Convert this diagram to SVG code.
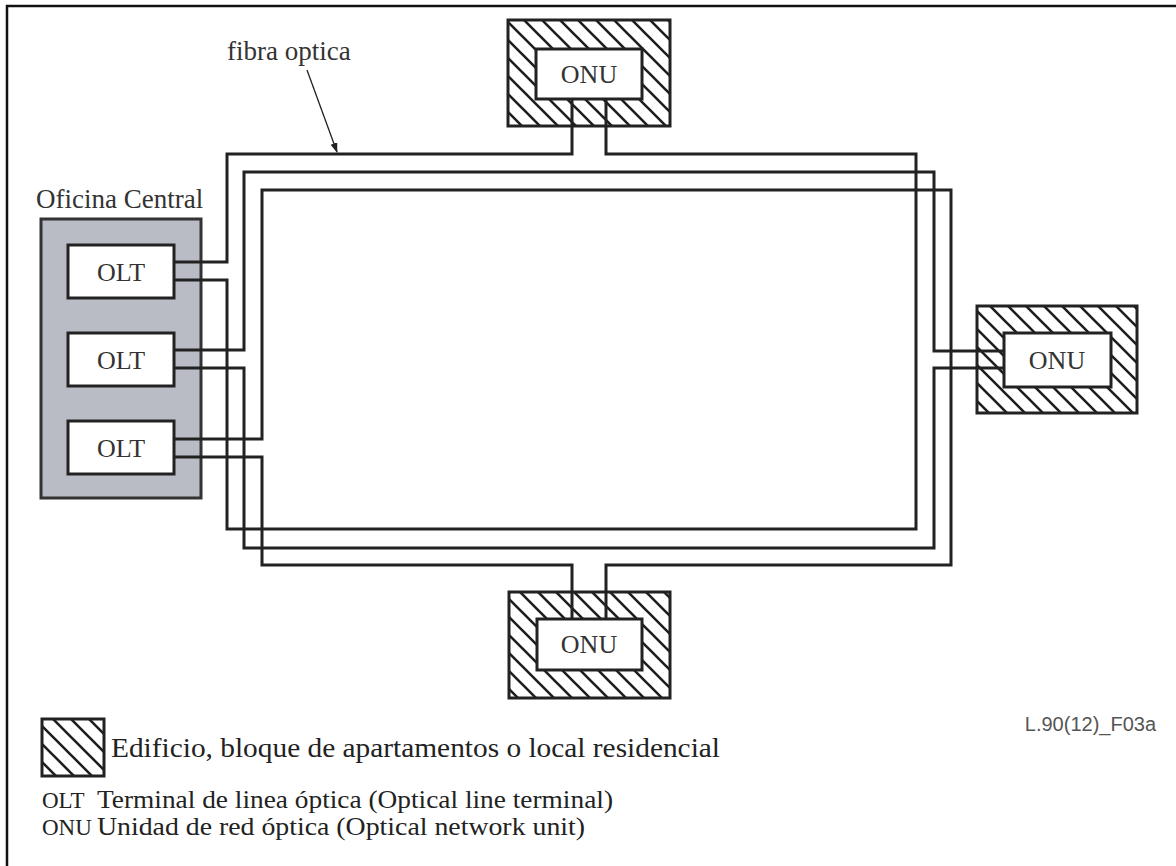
<svg xmlns="http://www.w3.org/2000/svg" width="1176" height="866" viewBox="0 0 1176 866">
<defs>
<pattern id="hatch" patternUnits="userSpaceOnUse" width="18" height="18">
<path d="M0,0 L18,18 M-3,15 L3,21 M15,-3 L21,3" stroke="#1e1e1e" stroke-width="2.6" fill="none"/>
</pattern>
<marker id="arr" markerWidth="10" markerHeight="10" refX="9" refY="5" orient="auto" markerUnits="userSpaceOnUse">
<path d="M0,1.5 L10,5 L0,8.5 Z" fill="#222"/>
</marker>
</defs>
<style>
.lbl{font-family:"Liberation Serif","Times New Roman",serif;font-size:26px;fill:#333}
.leg{font-family:"Liberation Serif","Times New Roman",serif;font-size:26px;fill:#222}
.fib{fill:none;stroke:#222;stroke-width:3}
.bld{fill:url(#hatch);stroke:#222;stroke-width:3}
.box{fill:#fff;stroke:#222;stroke-width:3}
</style>
<rect x="0" y="0" width="1176" height="866" fill="#fff"/>
<path d="M7,866 V6 H1176" fill="none" stroke="#111" stroke-width="2.5"/>

<g id="central">
<rect x="41" y="219" width="160" height="279" fill="#b9bcc4" stroke="#333" stroke-width="3"/>
<text class="lbl" x="36" y="208" style="font-size:27px">Oficina Central</text>
</g>
<g id="olt1"><rect class="box" x="68" y="245" width="106" height="53"/><text class="lbl" x="121" y="281" text-anchor="middle">OLT</text></g>
<g id="olt2"><rect class="box" x="68" y="333" width="106" height="53"/><text class="lbl" x="121" y="369" text-anchor="middle">OLT</text></g>
<g id="olt3"><rect class="box" x="68" y="421" width="106" height="53"/><text class="lbl" x="121" y="457" text-anchor="middle">OLT</text></g>

<g id="onu-top"><rect class="bld" x="508" y="20" width="162" height="106"/><rect class="box" x="536" y="49" width="106" height="50"/><text class="lbl" x="589" y="83" text-anchor="middle">ONU</text></g>
<g id="onu-right"><rect class="bld" x="977" y="306" width="160" height="107"/><rect class="box" x="1004" y="333" width="107" height="54"/><text class="lbl" x="1057" y="369" text-anchor="middle">ONU</text></g>
<g id="onu-bottom"><rect class="bld" x="509" y="592" width="161" height="106"/><rect class="box" x="537" y="619" width="105" height="51"/><text class="lbl" x="589" y="653" text-anchor="middle">ONU</text></g>

<g id="connectors">
<path class="fib" d="M174,262 H227 V154 H572 V99"/>
<path class="fib" d="M606,99 V154 H916 V529 H227 V280 H174"/>
<path class="fib" d="M174,350 H244 V172 H934 V351 H1004"/>
<path class="fib" d="M1004,368 H934 V548 H244 V368 H174"/>
<path class="fib" d="M174,439 H262 V190 H951 V565 H606 V619"/>
<path class="fib" d="M572,619 V565 H262 V457 H174"/>
<line x1="307" y1="70" x2="337" y2="152" stroke="#222" stroke-width="1.3" marker-end="url(#arr)"/>
</g>
<text class="lbl" x="227" y="60" style="font-size:27px">fibra optica</text>

<g id="legend">
<rect class="bld" x="42" y="719" width="62" height="57"/>
<text class="leg" x="111" y="757" style="font-size:28px" textLength="609" lengthAdjust="spacingAndGlyphs">Edificio, bloque de apartamentos o local residencial</text>
<text class="leg" x="42" y="808" style="font-size:23px">OLT</text>
<text class="leg" x="97" y="808" textLength="516" lengthAdjust="spacingAndGlyphs">Terminal de linea óptica (Optical line terminal)</text>
<text class="leg" x="42" y="835" style="font-size:23px">ONU</text>
<text class="leg" x="97" y="835" textLength="488" lengthAdjust="spacingAndGlyphs">Unidad de red óptica (Optical network unit)</text>
</g>
<text x="1156" y="731" text-anchor="end" style="font-family:'Liberation Sans',Arial,sans-serif;font-size:20px;fill:#555">L.90(12)_F03a</text>
</svg>
